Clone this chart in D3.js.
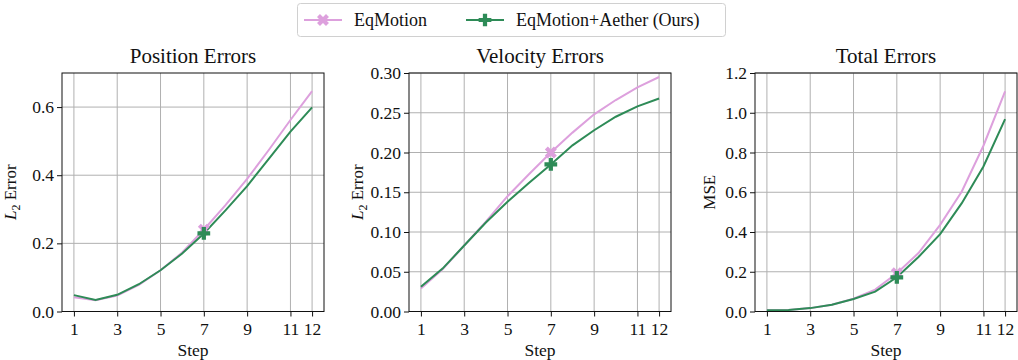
<!DOCTYPE html>
<html>
<head>
<meta charset="utf-8">
<script src="https://cdn.jsdelivr.net/npm/d3@7"></script>
<style>
  body { margin: 0; background: #fff; }
  svg text { font-family: "Liberation Serif", "DejaVu Serif", serif; fill: #111; }
</style>
</head>
<body>
<svg id="chart" width="1018" height="360"></svg>
<script>
const steps = [1, 2, 3, 4, 5, 6, 7, 8, 9, 10, 11, 12];
const xTicks = [1, 3, 5, 7, 9, 11, 12];

const posEq     = [0.042, 0.033, 0.047, 0.078, 0.121, 0.173, 0.240, 0.312, 0.389, 0.474, 0.562, 0.647];
const posAether = [0.048, 0.034, 0.049, 0.080, 0.121, 0.170, 0.229, 0.297, 0.368, 0.448, 0.528, 0.599];
const velEq     = [0.029, 0.053, 0.083, 0.113, 0.145, 0.173, 0.200, 0.225, 0.248, 0.266, 0.282, 0.295];
const velAether = [0.031, 0.054, 0.083, 0.112, 0.138, 0.162, 0.185, 0.209, 0.228, 0.245, 0.258, 0.268];
const totEq     = [0.006, 0.008, 0.017, 0.034, 0.064, 0.110, 0.192, 0.294, 0.436, 0.604, 0.834, 1.108];
const totAether = [0.006, 0.008, 0.017, 0.034, 0.063, 0.100, 0.172, 0.274, 0.389, 0.545, 0.730, 0.968];

const seriesNames = ['EqMotion', 'EqMotion+Aether (Ours)'];
const seriesColors = ['#dda0dd', '#2e8b57'];
const markStep = 7;

const panels = [
  { title: 'Position Errors', ylabel: 'L2', left: 62, yMax: 0.7, yTicks: [0, 0.2, 0.4, 0.6], fmt: d3.format('.1f'), data: [posEq, posAether] },
  { title: 'Velocity Errors', ylabel: 'L2', left: 409, yMax: 0.3, yTicks: [0, 0.05, 0.1, 0.15, 0.2, 0.25, 0.3], fmt: d3.format('.2f'), data: [velEq, velAether] },
  { title: 'Total Errors', ylabel: 'MSE', left: 755, yMax: 1.2, yTicks: [0, 0.2, 0.4, 0.6, 0.8, 1.0, 1.2], fmt: d3.format('.1f'), data: [totEq, totAether] }
];

const svg = d3.select('#chart');
const plotTop = 73, plotBottom = 311.5, w = 262;

// marker paths: pink = filled X, green = filled plus
const plusPath = d3.symbol(d3.symbolCross, 90)();
function drawMarker(g, i, x, y) {
  g.append('path')
    .attr('d', plusPath)
    .attr('fill', seriesColors[i])
    .attr('transform', `translate(${x},${y}) rotate(${i === 0 ? 45 : 0})`);
}

panels.forEach(p => {
  const g = svg.append('g');
  const x = d3.scaleLinear().domain([0.45, 12.55]).range([p.left, p.left + w]);
  const y = d3.scaleLinear().domain([0, p.yMax]).range([plotBottom, plotTop]);

  // grid
  g.append('g').selectAll('line').data(xTicks).join('line')
    .attr('x1', d => x(d)).attr('x2', d => x(d))
    .attr('y1', plotTop).attr('y2', plotBottom)
    .attr('stroke', '#b0b0b0').attr('stroke-width', 1);
  g.append('g').selectAll('line').data(p.yTicks).join('line')
    .attr('x1', p.left).attr('x2', p.left + w)
    .attr('y1', d => y(d)).attr('y2', d => y(d))
    .attr('stroke', '#b0b0b0').attr('stroke-width', 1);

  // lines
  const line = d3.line().x((d, i) => x(steps[i])).y(d => y(d));
  p.data.forEach((vals, i) => {
    g.append('path').datum(vals)
      .attr('d', line)
      .attr('fill', 'none')
      .attr('stroke', seriesColors[i])
      .attr('stroke-width', 2);
  });
  p.data.forEach((vals, i) => {
    const k = steps.indexOf(markStep);
    drawMarker(g, i, x(markStep), y(vals[k]));
  });

  // axes
  const xAxis = g.append('g').attr('transform', `translate(0,${plotBottom})`)
    .call(d3.axisBottom(x).tickValues(xTicks).tickSize(5).tickPadding(3).tickSizeOuter(0));
  const yAxis = g.append('g').attr('transform', `translate(${p.left},0)`)
    .call(d3.axisLeft(y).tickValues(p.yTicks).tickFormat(p.fmt).tickSize(5).tickPadding(3).tickSizeOuter(0));
  [xAxis, yAxis].forEach(a => {
    a.select('.domain').remove();
    a.selectAll('.tick line').attr('stroke', '#111').attr('stroke-width', 1);
    a.selectAll('.tick text').attr('font-size', 17.5).attr('font-family', '"Liberation Serif", serif').attr('fill', '#111');
  });
  xAxis.selectAll('.tick text').attr('dy', '0.9em');

  g.append('rect')
    .attr('x', p.left).attr('y', plotTop).attr('width', w).attr('height', plotBottom - plotTop)
    .attr('fill', 'none').attr('stroke', '#111').attr('stroke-width', 1);

  g.append('text')
    .attr('x', p.left + w / 2).attr('y', 63)
    .attr('text-anchor', 'middle').attr('font-size', 21)
    .text(p.title);

  g.append('text')
    .attr('x', p.left + w / 2).attr('y', 356)
    .attr('text-anchor', 'middle').attr('font-size', 17.5)
    .text('Step');

  const yl = g.append('text')
    .attr('text-anchor', 'middle').attr('font-size', 17);
  if (p.ylabel === 'L2') {
    yl.attr('transform', `translate(${p.left - 46},${(plotTop + plotBottom) / 2}) rotate(-90)`);
    yl.append('tspan').attr('font-style', 'italic').text('L');
    yl.append('tspan').attr('font-size', 12).attr('dy', 4).text('2');
    yl.append('tspan').attr('dy', -4).text(' Error');
  } else {
    yl.attr('transform', `translate(${p.left - 40},${(plotTop + plotBottom) / 2}) rotate(-90)`);
    yl.text(p.ylabel);
  }
});

// legend
const leg = svg.append('g');
leg.append('rect')
  .attr('x', 297.5).attr('y', 3.5).attr('width', 428).attr('height', 33).attr('rx', 3)
  .attr('fill', '#fff').attr('stroke', '#d0d0d0').attr('stroke-width', 1);
const legX = [304, 466];
seriesNames.forEach((name, i) => {
  leg.append('line')
    .attr('x1', legX[i]).attr('x2', legX[i] + 38).attr('y1', 20).attr('y2', 20)
    .attr('stroke', seriesColors[i]).attr('stroke-width', 2);
  drawMarker(leg, i, legX[i] + 19, 20);
  leg.append('text')
    .attr('x', legX[i] + 50).attr('y', 26)
    .attr('font-size', 18)
    .text(name);
});
</script>
</body>
</html>
